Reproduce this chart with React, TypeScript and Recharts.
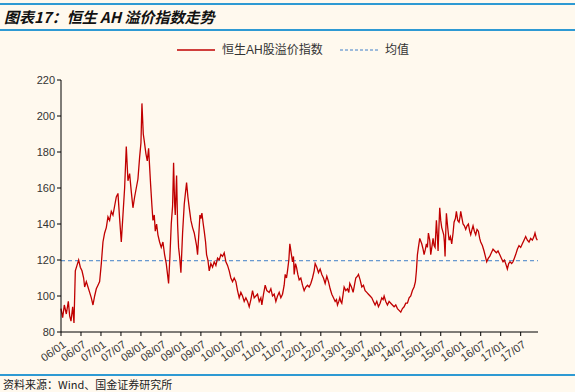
import { LineChart, Line, XAxis, YAxis, ReferenceLine, Legend } from "recharts";

// x = months since Jan 2006, y = index value
const seg2006to2008: [number, number][] = [
  [0, 93], [0.5, 88], [1, 95], [1.6, 90], [2.2, 97], [2.6, 89], [3, 86], [3.5, 94], [3.9, 85],
  [4.3, 114], [4.8, 117], [5.3, 120], [5.8, 116], [6.3, 114], [6.8, 110], [7.1, 105], [7.6, 108],
  [8.1, 105], [8.6, 102], [9.1, 99], [9.6, 95], [10.1, 100], [10.6, 104], [11.1, 106], [11.6, 108],
  [12.1, 118], [12.6, 130], [13.1, 135], [13.6, 138], [14.1, 144], [14.6, 142], [15.1, 147],
  [15.6, 145], [16.1, 150], [16.6, 155], [17.1, 157], [17.6, 143], [18.1, 130], [18.6, 145],
  [19.1, 160], [19.6, 183], [20.1, 164], [20.6, 168], [21.1, 158], [21.6, 149], [22.1, 155],
  [22.6, 160], [23.1, 165], [23.6, 177], [24.0, 185], [24.3, 207], [24.7, 190], [25.0, 186],
  [25.5, 179], [25.9, 175], [26.3, 182], [26.9, 162], [27.3, 150], [27.6, 142], [28.0, 145],
  [28.3, 136], [28.7, 140], [29.1, 134], [29.6, 130], [30.1, 127], [30.6, 130], [31.1, 123],
  [31.6, 118], [32.3, 107], [32.7, 122], [33.1, 140], [33.5, 150], [33.8, 174], [34.1, 152],
  [34.3, 145], [34.7, 167], [35.0, 140], [35.3, 127], [35.6, 122], [36.0, 113],
];

const seg2009to2011: [number, number][] = [
  [36.5, 135], [37.0, 151], [37.4, 158], [37.7, 163], [38.1, 155], [38.5, 149], [39.0, 142],
  [39.5, 138], [40.0, 135], [40.3, 132], [40.7, 128], [41.0, 123], [41.4, 135], [41.7, 145],
  [42.0, 143], [42.3, 146], [42.7, 140], [43.0, 136], [43.4, 130], [43.7, 123], [44.1, 120],
  [44.5, 114], [45.0, 118], [45.5, 116], [46.0, 119], [46.5, 117], [47.0, 121], [47.5, 120],
  [48.0, 123], [48.5, 122], [49.0, 124], [49.5, 119], [50.0, 117], [50.5, 114], [51.0, 110],
  [51.5, 108], [52.0, 110], [52.5, 108], [53.0, 103], [53.5, 99], [54.0, 102], [54.5, 100],
  [55.0, 97], [55.5, 99], [56.0, 97], [56.5, 94], [57.0, 98], [57.5, 103], [58.0, 99],
  [58.5, 100], [59.0, 101], [59.5, 97], [60.0, 99], [60.3, 95], [60.8, 101], [61.3, 106],
  [61.8, 103], [62.5, 102], [63.0, 104], [63.5, 100], [64.0, 101], [64.5, 97], [65.0, 100],
  [65.5, 102], [66.0, 99], [66.5, 101], [67.0, 106], [67.3, 112], [67.7, 110], [68.0, 114],
  [68.4, 120], [68.7, 129], [69.1, 124], [69.5, 119], [69.8, 122], [70.0, 112], [70.4, 118],
  [70.7, 116], [71.1, 112], [71.5, 109], [72.0, 110],
];

const seg2012to2014: [number, number][] = [
  [72.5, 106], [73.0, 103], [73.5, 105], [74.0, 106], [74.5, 105], [75.0, 107], [75.5, 110],
  [76.0, 114], [76.3, 118], [76.8, 116], [77.3, 113], [77.8, 115], [78.3, 112], [78.8, 110],
  [79.3, 107], [79.8, 111], [80.3, 108], [80.8, 104], [81.3, 101], [81.8, 99], [82.3, 97],
  [82.7, 98], [83.0, 95], [83.4, 97], [83.7, 99], [84.0, 97], [84.3, 96], [84.7, 101],
  [85.0, 105], [85.5, 103], [86.0, 104], [86.4, 102], [86.7, 107], [87.2, 105], [87.7, 102],
  [88.1, 106], [88.5, 110], [89.0, 111], [89.3, 112], [89.8, 109], [90.3, 105], [90.8, 106],
  [91.3, 103], [91.8, 102], [92.3, 101], [92.8, 100], [93.3, 99], [93.8, 97], [94.3, 95],
  [94.8, 97], [95.3, 94], [95.8, 96], [96.3, 99], [96.7, 98], [97.0, 100], [97.5, 97],
  [98.0, 95], [98.5, 97], [99.0, 96], [99.5, 95], [100.0, 94], [100.5, 95], [101.0, 93],
  [101.5, 92], [102.0, 91], [102.5, 93], [103.0, 94], [103.5, 96], [104.0, 96], [104.5, 99],
  [105.0, 100], [105.5, 103], [106.0, 105], [106.4, 108], [106.7, 114], [107.0, 123],
  [107.3, 127], [107.7, 132],
];

const seg2015to2017: [number, number][] = [
  [108.3, 129], [108.7, 126], [109.0, 123], [109.4, 126], [109.7, 129], [110.0, 127],
  [110.3, 135], [110.7, 131], [111.0, 123], [111.4, 128], [111.7, 132], [112.0, 128],
  [112.3, 127], [112.7, 142], [113.0, 133], [113.2, 125], [113.5, 140], [113.7, 149],
  [114.0, 142], [114.3, 138], [114.6, 136], [114.9, 134], [115.1, 130], [115.3, 122],
  [115.5, 135], [115.7, 146], [116.1, 138], [116.5, 131], [116.9, 133], [117.3, 129],
  [117.7, 135], [118.0, 141], [118.4, 143], [118.7, 147], [119.1, 142], [119.5, 141],
  [119.8, 144], [120.0, 147], [120.4, 143], [120.7, 140], [121.1, 139], [121.5, 137],
  [121.9, 139], [122.3, 140], [122.7, 136], [123.0, 134], [123.4, 137], [123.7, 139],
  [124.1, 136], [124.5, 134], [124.9, 137], [125.3, 136], [125.7, 132], [126.0, 130],
  [126.5, 128], [127.0, 125], [127.4, 122], [127.8, 119], [128.3, 121], [128.7, 122],
  [129.2, 124], [129.7, 126], [130.2, 125], [130.7, 124], [131.2, 125], [131.7, 123],
  [132.2, 121], [132.7, 119], [133.1, 120], [133.5, 118], [134.0, 115], [134.4, 118],
  [134.8, 119], [135.3, 118], [135.7, 119], [136.1, 121], [136.5, 123], [137.0, 126],
  [137.5, 128], [138.0, 127], [138.5, 129], [139.0, 131], [139.5, 133], [140.0, 131],
  [140.5, 130], [141.0, 132], [141.5, 131], [142.0, 133], [142.3, 135], [142.7, 132],
  [143.0, 131],
];

const tickLabels = [
  "06/01", "06/07", "07/01", "07/07", "08/01", "08/07", "09/01", "09/07",
  "10/01", "10/07", "11/01", "11/07", "12/01", "12/07", "13/01", "13/07",
  "14/01", "14/07", "15/01", "15/07", "16/01", "16/07", "17/01", "17/07",
];

const yTicks = [80, 100, 120, 140, 160, 180, 200, 220];
const meanValue = 119.6;

const seriesName = "恒生AH股溢价指数";
const meanName = "均值";

const chartData = [...seg2006to2008, ...seg2009to2011, ...seg2012to2014, ...seg2015to2017].map(
  ([t, v]) => ({ t, ah: v })
);
const xTicks = tickLabels.map((_, i) => i * 6);

const RED = "#C00000";
const BLUE = "#3F7FC8";
const RULE = "#2E9AD3";
const FONT = "'Liberation Sans', Arial, 'Noto Sans CJK SC', sans-serif";

const RotTick = (props: any) => {
  const { x, y, payload } = props;
  const label = tickLabels[Math.round(payload.value / 6)];
  return (
    <g transform={`translate(${x},${y})`}>
      <text
        x={0}
        y={0}
        dy={10}
        textAnchor="end"
        transform="rotate(-35)"
        fontSize={11}
        fill="#333"
        fontFamily={FONT}
      >
        {label}
      </text>
    </g>
  );
};

const LegendBox = () => (
  <svg width={575} height={20} style={{ display: "block" }}>
    <line x1={177} x2={215} y1={10} y2={10} stroke={RED} strokeWidth={1.5} />
    <text x={222} y={14} fontSize={12} fill="#333" fontFamily={FONT}>
      {seriesName}
    </text>
    <line x1={340} x2={378} y1={10} y2={10} stroke={BLUE} strokeWidth={1} strokeDasharray="3 2" />
    <text x={385} y={14} fontSize={12} fill="#333" fontFamily={FONT}>
      {meanName}
    </text>
  </svg>
);

export default function App() {
  return (
    <div
      style={{
        position: "relative",
        width: 575,
        height: 392,
        background: "#FFF9EE",
        fontFamily: FONT,
        overflow: "hidden",
      }}
    >
      <style>{`body{margin:0}`}</style>
      <div style={{ position: "absolute", left: 0, top: 3, width: 575, height: 2, background: RULE }} />
      <div
        style={{
          position: "absolute",
          left: 4,
          top: 7,
          fontSize: 15,
          fontWeight: "bold",
          fontStyle: "italic",
          color: "#111",
          fontFamily: "'Noto Sans CJK SC', sans-serif",
          lineHeight: "20px",
        }}
      >
        图表17：恒生 AH 溢价指数走势
      </div>
      <div style={{ position: "absolute", left: 0, top: 29, width: 575, height: 2, background: RULE }} />

      <div style={{ position: "absolute", left: 0, top: 0 }}>
        <LineChart
          width={575}
          height={392}
          data={chartData}
          margin={{ top: 60, right: 37, bottom: 20, left: 0 }}
        >
          <Legend
            verticalAlign="top"
            height={20}
            content={() => <LegendBox />}
            wrapperStyle={{ top: 40, left: 0, width: 575 }}
          />
          <XAxis
            dataKey="t"
            type="number"
            domain={[0, 143.2]}
            ticks={xTicks}
            interval={0}
            tick={RotTick}
            tickSize={4}
            height={40}
            stroke="#000"
            axisLine={{ stroke: "#000" }}
            tickLine={{ stroke: "#000" }}
          />
          <YAxis
            domain={[80, 220]}
            ticks={yTicks}
            interval={0}
            width={61}
            tickSize={4}
            tick={{ fontSize: 11, fill: "#333", fontFamily: FONT }}
            axisLine={{ stroke: "#000" }}
            tickLine={{ stroke: "#000" }}
          />
          <ReferenceLine y={meanValue} stroke={BLUE} strokeDasharray="4 3" strokeWidth={1} />
          <Line
            type="linear"
            dataKey="ah"
            name={seriesName}
            stroke={RED}
            strokeWidth={1.3}
            dot={false}
            isAnimationActive={false}
          />
        </LineChart>
      </div>

      <div style={{ position: "absolute", left: 0, top: 374, width: 575, height: 1.5, background: RULE }} />
      <div
        style={{
          position: "absolute",
          left: 3,
          top: 377,
          fontSize: 11,
          color: "#222",
          fontFamily: "'Noto Sans CJK SC', sans-serif",
          lineHeight: "14px",
        }}
      >
        资料来源：Wind、国金证券研究所
      </div>
    </div>
  );
}
